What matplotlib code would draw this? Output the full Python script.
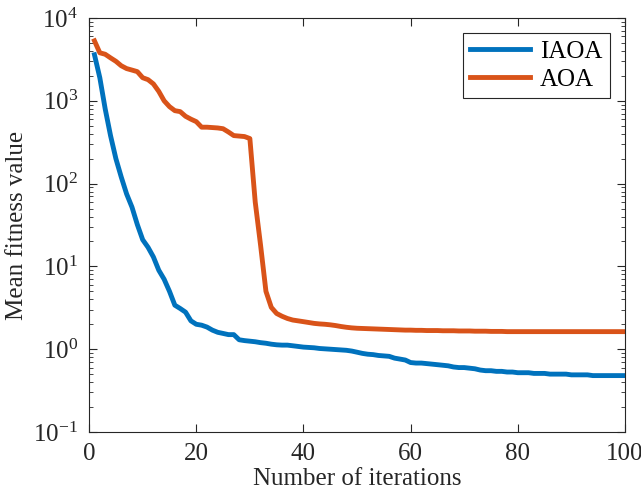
import matplotlib
matplotlib.use('Agg')
import matplotlib.pyplot as plt
from matplotlib.ticker import LogLocator

plt.rcParams['font.family'] = ['Liberation Serif', 'DejaVu Serif']
plt.rcParams['mathtext.fontset'] = 'custom'
plt.rcParams['mathtext.rm'] = 'Liberation Serif'
plt.rcParams['mathtext.it'] = 'Liberation Serif:italic'

# iteration index
iterations = list(range(1, 101))

# mean fitness
iaoa = [3600, 1900, 800, 380, 200, 120, 75, 52, 32, 21,
        17, 13, 9.0, 7.0, 5.0, 3.4, 3.1, 2.8, 2.2, 2.0,
        1.95, 1.85, 1.7, 1.6, 1.55, 1.5, 1.5, 1.3, 1.27, 1.25,
        1.23, 1.2, 1.18, 1.15, 1.13, 1.12, 1.12, 1.1, 1.08, 1.06,
        1.05, 1.04, 1.02, 1.01, 1.0, 0.99, 0.98, 0.97, 0.95, 0.92,
        0.89, 0.87, 0.86, 0.84, 0.83, 0.82, 0.78, 0.76, 0.74, 0.69,
        0.68, 0.68, 0.67, 0.66, 0.65, 0.64, 0.63, 0.61, 0.60, 0.60,
        0.59, 0.58, 0.56, 0.55, 0.55, 0.54, 0.54, 0.53, 0.53, 0.52,
        0.52, 0.52, 0.51, 0.51, 0.51, 0.50, 0.50, 0.50, 0.50, 0.49,
        0.49, 0.49, 0.49, 0.48, 0.48, 0.48, 0.48, 0.48, 0.48, 0.48]

aoa = [5300, 3800, 3650, 3300, 3000, 2650, 2450, 2350, 2250, 1900,
       1800, 1600, 1300, 1000, 850, 760, 740, 650, 600, 560,
       480, 480, 475, 470, 460, 420, 380, 375, 370, 350,
       60, 18, 5.0, 3.2, 2.7, 2.5, 2.35, 2.25, 2.2, 2.15,
       2.1, 2.05, 2.02, 2.0, 1.97, 1.93, 1.88, 1.84, 1.81, 1.79,
       1.78, 1.77, 1.76, 1.75, 1.74, 1.73, 1.72, 1.71, 1.70, 1.70,
       1.69, 1.69, 1.68, 1.68, 1.68, 1.67, 1.67, 1.67, 1.66, 1.66,
       1.66, 1.65, 1.65, 1.65, 1.64, 1.64, 1.64, 1.63, 1.63, 1.63,
       1.63, 1.63, 1.63, 1.63, 1.63, 1.63, 1.63, 1.63, 1.63, 1.63,
       1.63, 1.63, 1.63, 1.63, 1.63, 1.63, 1.63, 1.63, 1.63, 1.63]

fig = plt.figure(figsize=(6.41, 5.0), dpi=100)
ax = fig.add_axes([0.139, 0.136, 0.836, 0.828])

ax.semilogy(iterations, iaoa, color='#0072BD', lw=3.5, label='IAOA')
ax.semilogy(iterations, aoa, color='#D95319', lw=3.5, label='AOA')

ax.set_xlim(0, 100)
ax.set_ylim(1e-1, 1e4)
ax.set_xticks([0, 20, 40, 60, 80, 100])
ax.yaxis.set_major_locator(LogLocator(base=10, numticks=10))
ax.yaxis.set_minor_locator(LogLocator(base=10, subs=range(2, 10), numticks=20))

for s in ax.spines.values():
    s.set_color('#262626')
    s.set_linewidth(0.8)
ax.tick_params(which='both', direction='in', top=True, right=True, colors='#262626',
               labelsize=18, labelcolor='#262626')
ax.tick_params(which='major', length=6, width=0.8, pad=8)
ax.tick_params(which='minor', length=3, width=0.6)

ax.set_xlabel('Number of iterations', fontsize=18, color='#262626', labelpad=2)
ax.set_ylabel('Mean fitness value', fontsize=18, color='#262626', labelpad=4)

leg = ax.legend(loc='upper right', fontsize=18, handlelength=2.4, handletextpad=0.4,
                borderpad=0.3, labelspacing=0.2, fancybox=False, framealpha=1,
                borderaxespad=0.6)
leg.get_frame().set_edgecolor('#262626')
leg.get_frame().set_linewidth(0.8)

fig.savefig('out.png', dpi=100)
